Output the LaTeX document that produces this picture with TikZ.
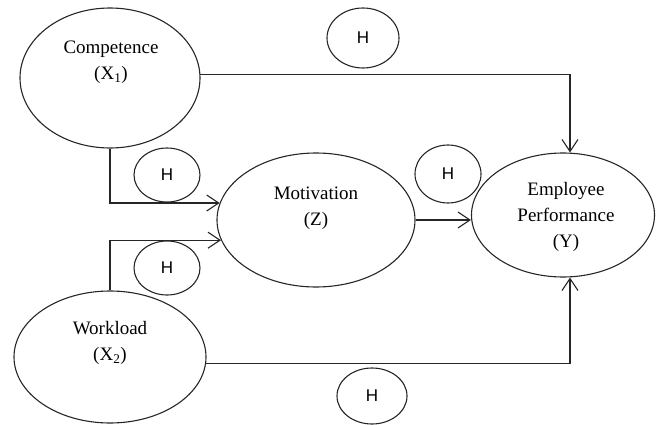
\documentclass[tikz,border=0pt]{standalone}
\usepackage{fontspec}
\setmainfont{Liberation Serif}
\newfontfamily\hfont{Liberation Sans}
\usetikzlibrary{shapes.geometric,arrows.meta,calc}
\begin{document}
\begin{tikzpicture}[x=1pt,y=-1pt,
  ell/.style={ellipse,draw,line width=1.1pt,draw=black!85,inner sep=0pt},
  hyp/.style={ellipse,draw,line width=1.1pt,draw=black!85,inner sep=0pt,font=\hfont\fontsize{17}{20}\selectfont},
  lbl/.style={align=center,font=\fontsize{19}{26}\selectfont,inner sep=0pt},
  conn/.style={line width=1.1pt,draw=black!85},
  arr/.style={conn,-{Straight Barb[length=12pt,width=16pt,line width=1.1pt]}}]
\useasboundingbox (0,0) rectangle (656,425);
% main constructs
\node[ell,minimum width=180pt,minimum height=140pt] (comp) at (110,78) {};
\node[ell,minimum width=192pt,minimum height=132pt] (work) at (110,357) {};
\node[ell,minimum width=198pt,minimum height=134pt] (mot) at (316,220) {};
\node[ell,minimum width=183pt,minimum height=124pt] (emp) at (563,215) {};
% labels
\node[lbl] (compt) at (111,62) {Competence\\(X\textsubscript{1})};
\node[lbl] (workt) at (110,343) {Workload\\(X\textsubscript{2})};
\node[lbl] (mott) at (316,208) {Motivation\\(Z)};
\node[lbl] (empt) at (566,217) {Employee\\Performance\\(Y)};
% hypothesis marks
\node[hyp,minimum width=72pt,minimum height=60pt] (h1) at (363,38) {H};
\node[hyp,minimum width=66pt,minimum height=54pt] (h2) at (167,175) {H};
\node[hyp,minimum width=66pt,minimum height=54pt] (h3) at (167,268) {H};
\node[hyp,minimum width=66pt,minimum height=58pt] (h4) at (448,174) {H};
\node[hyp,minimum width=70pt,minimum height=56pt] (h5) at (372,396) {H};
% connectors
\coordinate (empin) at ($(emp.north)+(7,0)$);
\coordinate (empout) at ($(emp.south)+(7,0)$);
\draw[arr] (comp.2) -| (empin);
\draw[arr] (work.-4) -| (empout);
\draw[arr] (comp.south) |- (mot.170);
\draw[arr] (work.north) |- (mot.192);
\draw[arr] (mot.east) -- (mot.east -| emp.west);
\end{tikzpicture}
\end{document}
